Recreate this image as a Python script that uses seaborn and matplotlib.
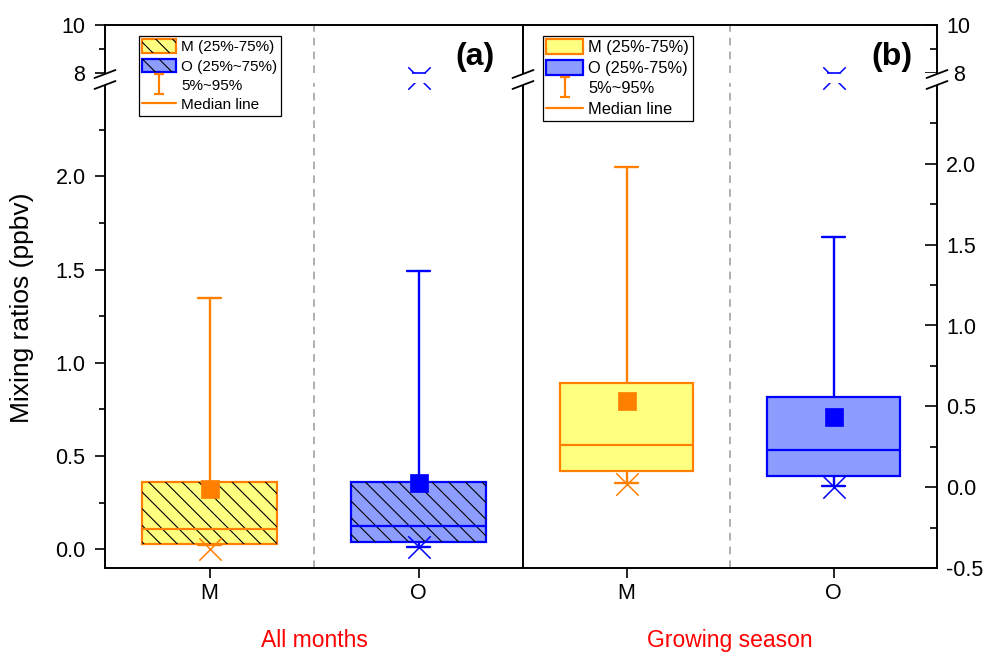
import numpy as np
import matplotlib
matplotlib.use("Agg")
import matplotlib.pyplot as plt
import matplotlib.transforms as mtransforms
import seaborn as sns
from matplotlib.patches import Patch, PathPatch
from matplotlib.lines import Line2D
from matplotlib.path import Path
from matplotlib.legend_handler import HandlerTuple

# ---------------- data ----------------
categories = ["M", "O"]
group_labels = ["All months", "Growing season"]
panel_labels = ["(a)", "(b)"]

# panel (a): all months
a_p5 = [0.025, 0.015]
a_q1 = [0.03, 0.04]
a_med = [0.11, 0.125]
a_q3 = [0.36, 0.36]
a_p95 = [1.345, 1.49]
a_mean = [0.325, 0.355]
a_min = [0.0, 0.01]
a_max = [np.nan, 5.25]   # O maximum falls inside the axis break (M max off scale)

# panel (b): growing season
b_p5 = [0.025, 0.008]
b_q1 = [0.10, 0.072]
b_med = [0.26, 0.227]
b_q3 = [0.642, 0.557]
b_p95 = [1.983, 1.549]
b_mean = [0.531, 0.436]
b_min = [0.019, 0.004]
b_max = [np.nan, 5.25]

# ---------------- style ----------------
sns.set_style("ticks")
plt.rcParams["font.family"] = ["Liberation Sans", "DejaVu Sans"]
plt.rcParams["hatch.linewidth"] = 0.8
plt.rcParams["hatch.color"] = "black"
for k in ("text.color", "axes.labelcolor", "xtick.color", "ytick.color",
          "axes.edgecolor"):
    plt.rcParams[k] = "black"

ORANGE = "#FF8000"
YELLOW = "#FFFF80"
BLUE = "#0000FF"
LBLUE = "#8C9CFF"
edge_cols = [ORANGE, BLUE]
fill_cols = [YELLOW, LBLUE]
TICK_FS = 15.5

W, H = 983, 656
fig = plt.figure(figsize=(W / 100, H / 100), dpi=100)

def frac_box(x0, x1, ytop, ybot):
    return [x0 / W, 1 - ybot / H, (x1 - x0) / W, (ybot - ytop) / H]

ax1 = fig.add_axes(frac_box(105, 523, 25, 568))
ax2 = fig.add_axes(frac_box(523, 937, 25, 568))

LO, HI = 2.5, 8.0

def make_scale(S):
    G = 10.0 / S
    K = 24.0 / S
    def fwd(v):
        v = np.asarray(v, dtype=float)
        return np.where(v <= LO, v,
                        np.where(v >= HI, LO + G + (v - HI) * K,
                                 LO + (v - LO) / (HI - LO) * G))
    def inv(t):
        t = np.asarray(t, dtype=float)
        return np.where(t <= LO, t,
                        np.where(t >= LO + G, HI + (t - LO - G) / K,
                                 LO + (t - LO) / G * (HI - LO)))
    return fwd, inv

# px per data unit (lower segment) so that frame spans 543 px
S_a = 485.0 / 2.6
S_b = 485.0 / 3.0

def draw_panel(ax, S, ymin, p5, q1, med, q3, p95, mean, vmin, vmax, hatch):
    ax.set_yscale("function", functions=make_scale(S))
    ax.set_xlim(-0.5, 1.5)
    ax.set_ylim(ymin, 10)
    stats = []
    for i, c in enumerate(categories):
        stats.append(dict(label=c, q1=q1[i], med=med[i], q3=q3[i],
                          whislo=p5[i], whishi=p95[i], fliers=[]))
    res = ax.bxp(stats, positions=[0, 1], widths=0.645, patch_artist=True,
                 showfliers=False, capwidths=0.11, manage_ticks=False)
    for i in range(2):
        b = res["boxes"][i]
        b.set_facecolor(fill_cols[i])
        b.set_edgecolor(edge_cols[i])
        b.set_linewidth(1.6)
        b.set_zorder(2)
        if hatch:
            hp = PathPatch(b.get_path(), facecolor="none", edgecolor="black",
                           lw=0, hatch=hatch, zorder=2.05,
                           transform=b.get_transform())
            ax.add_patch(hp)
        for ln in res["whiskers"][2 * i:2 * i + 2] + res["caps"][2 * i:2 * i + 2]:
            ln.set_color(edge_cols[i])
            ln.set_linewidth(1.7)
        res["medians"][i].set_color(edge_cols[i])
        res["medians"][i].set_linewidth(1.6)
        res["medians"][i].set_zorder(2.1)
    xs = [0, 1]
    for i in range(2):
        # mean squares
        sns.scatterplot(x=[xs[i]], y=[mean[i]], marker="s", s=175,
                        color=edge_cols[i], edgecolor=edge_cols[i],
                        linewidth=0.5, ax=ax, zorder=3, legend=False)
        # minimum
        sns.scatterplot(x=[xs[i]], y=[vmin[i]], marker="x", s=260,
                        color=edge_cols[i], linewidth=1.1, ax=ax, zorder=3,
                        legend=False)
        if not np.isnan(vmax[i]):
            sns.scatterplot(x=[xs[i]], y=[vmax[i]], marker="x", s=260,
                            color=edge_cols[i], linewidth=1.1, ax=ax,
                            zorder=2.3, legend=False, clip_on=False)
            ax.plot([xs[i]], [HI], marker="_", ms=9.5, mew=1.2,
                    color=edge_cols[i], zorder=2.6, clip_on=False)
    # hide the break region
    ax.axhspan(LO, HI, color="white", zorder=2.5, lw=0)
    # separator
    ax.axvline(0.5, color="#9a9a9a", ls=(0, (5, 4)), lw=1.1, zorder=0.5)
    ax.set_xticks([0, 1], categories)
    ax.set_xlabel("")
    ax.set_ylabel("")
    for sp in ax.spines.values():
        sp.set_linewidth(1.4)
        sp.set_color("black")
        sp.set_visible(True)
        sp.set_zorder(5)
    ax.tick_params(axis="x", direction="out", length=7, width=1.2,
                   labelsize=TICK_FS, pad=4, top=False, bottom=True,
                   colors="black")

draw_panel(ax1, S_a, -0.1, a_p5, a_q1, a_med, a_q3, a_p95, a_mean, a_min,
           a_max, "\\\\")
draw_panel(ax2, S_b, -0.5, b_p5, b_q1, b_med, b_q3, b_p95, b_mean, b_min,
           b_max, None)

# y axes
ya_major = [0.0, 0.5, 1.0, 1.5, 2.0, 8, 10]
ya_labels = ["0.0", "0.5", "1.0", "1.5", "2.0", "8", "10"]
ya_minor = [0.25, 0.75, 1.25, 1.75, 2.25, 9]
ax1.set_yticks(ya_major, ya_labels)
ax1.set_yticks(ya_minor, minor=True)
ax1.tick_params(axis="y", which="both", left=True, right=False,
                direction="out", width=1.2, labelsize=TICK_FS, colors="black")
ax1.tick_params(axis="y", which="major", length=7, pad=7)
ax1.tick_params(axis="y", which="minor", length=4)

yb_major = [-0.5, 0.0, 0.5, 1.0, 1.5, 2.0, 8, 10]
yb_labels = ["-0.5", "0.0", "0.5", "1.0", "1.5", "2.0", "8", "10"]
yb_minor = [-0.25, 0.25, 0.75, 1.25, 1.75, 2.25, 9]
ax2.yaxis.tick_right()
ax2.set_yticks(yb_major, yb_labels)
ax2.set_yticks(yb_minor, minor=True)
ax2.tick_params(axis="y", which="both", left=False, right=True,
                labelleft=False, labelright=True,
                direction="in", width=1.2, labelsize=TICK_FS, colors="black")
ax2.tick_params(axis="y", which="major", length=9, pad=6.5)
ax2.tick_params(axis="y", which="minor", length=5)

# nudge the "8" labels away from the break marks, as in the reference
for tick in ax2.yaxis.get_major_ticks():
    if tick.label2.get_text() == "8":
        tick.label2.set_transform(tick.label2.get_transform() +
                                  mtransforms.ScaledTranslation(
                                      7 / 100, 0, fig.dpi_scale_trans))
for tick in ax1.yaxis.get_major_ticks():
    if tick.label1.get_text() == "8":
        tick.label1.set_transform(tick.label1.get_transform() +
                                  mtransforms.ScaledTranslation(
                                      -1 / 100, 0, fig.dpi_scale_trans))

# panel labels and group labels
for ax, pl, gl, px in [(ax1, panel_labels[0], group_labels[0], 0.885),
                       (ax2, panel_labels[1], group_labels[1], 0.892)]:
    ax.text(px, 0.941, pl, transform=ax.transAxes, ha="center",
            va="center", fontsize=23, fontweight="bold", zorder=6,
            color="black")
    ax.text(0.5, -0.1326, gl, transform=ax.transAxes, ha="center",
            va="center", fontsize=16.5, color="red")

fig.text(22 / W, 1 - 308 / H, "Mixing ratios (ppbv)", rotation=90,
         ha="center", va="center", fontsize=19, color="black")

# break marks (axis decoration)
def break_mark(xc, yc=79.5):
    dx, dy, sep = 10.5, 4.0, 5.5
    poly = plt.Polygon([((xc - dx) / W, 1 - (yc + dy - sep) / H),
                        ((xc + dx) / W, 1 - (yc - dy - sep) / H),
                        ((xc + dx) / W, 1 - (yc - dy + sep) / H),
                        ((xc - dx) / W, 1 - (yc + dy + sep) / H)],
                       closed=True, transform=fig.transFigure,
                       facecolor="white", edgecolor="none", zorder=10)
    fig.add_artist(poly)
    for s in (-sep, sep):
        fig.add_artist(Line2D([(xc - dx) / W, (xc + dx) / W],
                              [1 - (yc + dy + s) / H, 1 - (yc - dy + s) / H],
                              transform=fig.transFigure, color="black",
                              lw=1.3, zorder=11))

for xc in (105, 523, 937):
    break_mark(xc)

# legends
ibeam = Path([(-0.5, 1), (0.5, 1), (0, 1), (0, -1), (-0.5, -1), (0.5, -1)],
             [Path.MOVETO, Path.LINETO, Path.MOVETO, Path.LINETO,
              Path.MOVETO, Path.LINETO])

def legend_common(fs):
    return dict(loc="upper left", borderaxespad=0, fontsize=fs,
                frameon=True, fancybox=False, edgecolor="black",
                framealpha=1, handlelength=2.2, handleheight=1.0,
                labelspacing=0.28, handletextpad=0.35, borderpad=0.22)

h_ibeam = Line2D([], [], ls="none", marker=ibeam, ms=14, mew=1.6,
                 color=ORANGE)
h_med = Line2D([], [], color=ORANGE, lw=1.6)

hA = [(Patch(facecolor=YELLOW, edgecolor=ORANGE, lw=1.6),
       Patch(facecolor="none", edgecolor="black", lw=0, hatch="\\\\")),
      (Patch(facecolor=LBLUE, edgecolor=BLUE, lw=1.6),
       Patch(facecolor="none", edgecolor="black", lw=0, hatch="\\\\")),
      h_ibeam, h_med]
lA = ["M (25%-75%)", "O (25%~75%)", "5%~95%", "Median line"]
legA = ax1.legend(hA, lA, bbox_to_anchor=(0.081, 0.98),
                  handler_map={tuple: HandlerTuple(ndivide=1, pad=0)},
                  **legend_common(11))
legA.get_frame().set_linewidth(0.9)

hB = [Patch(facecolor=YELLOW, edgecolor=ORANGE, lw=1.6),
      Patch(facecolor=LBLUE, edgecolor=BLUE, lw=1.6), h_ibeam, h_med]
lB = ["M (25%-75%)", "O (25%-75%)", "5%~95%", "Median line"]
legB = ax2.legend(hB, lB, bbox_to_anchor=(0.048, 0.98), **legend_common(11.8))
legB.get_frame().set_linewidth(0.9)
legA.set_zorder(7)
legB.set_zorder(7)

fig.savefig("out.png", dpi=100)
